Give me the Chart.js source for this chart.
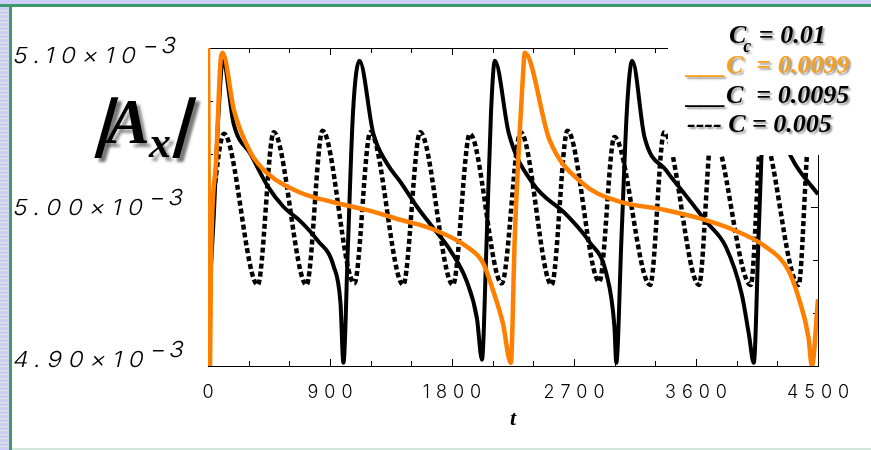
<!DOCTYPE html>
<html>
<head>
<meta charset="utf-8">
<script src="https://cdn.jsdelivr.net/npm/chart.js@4.4.1/dist/chart.umd.min.js"></script>
<style>
  html, body { margin: 0; padding: 0; background: #fff; }
  canvas { display: block; }
</style>
</head>
<body>
<canvas id="ampChart" width="871" height="450"></canvas>
<script>
// |A_x| vs t for three coupling values (amplitudes in units of 1e-3)

const xTickValues = [0, 900, 1800, 2700, 3600, 4500];
const yTickValues = [4.90, 5.00, 5.10];
const yTickLabels = ['4.90', '5.00', '5.10'];

// C = 0.0099
const orangeT = [0, 15, 22, 59, 95, 108, 191, 316, 441, 683, 926, 1176, 1418, 1660, 1910, 2028, 2101, 2175, 2234, 2263, 2300, 2325, 2336, 2520, 2762, 3012, 3380, 3622, 3865, 4114, 4283, 4357, 4430, 4455, 4500];
const orangeV = [5.100, 4.900, 4.965, 5.028, 5.094, 5.097, 5.061, 5.034, 5.021, 5.009, 5.003, 4.998, 4.992, 4.986, 4.975, 4.965, 4.948, 4.927, 4.902, 4.981, 5.048, 5.085, 5.097, 5.042, 5.015, 5.004, 4.998, 4.993, 4.986, 4.975, 4.960, 4.943, 4.918, 4.900, 4.942];

// C = 0.0095
const blackT = [0, 40, 75, 110, 190, 316, 441, 558, 683, 808, 926, 977, 999, 1032, 1070, 1117, 1220, 1323, 1418, 1543, 1660, 1785, 1910, 1984, 2021, 2054, 2088, 2116, 2220, 2395, 2645, 2814, 2939, 2998, 3012, 3050, 3093, 3130, 3220, 3380, 3527, 3673, 3820, 3938, 3990, 4026, 4063, 4100, 4137, 4230, 4305, 4500];
const blackV = [4.930, 4.990, 5.055, 5.092, 5.052, 5.033, 5.013, 5.000, 4.991, 4.979, 4.963, 4.940, 4.902, 4.975, 5.060, 5.092, 5.046, 5.027, 5.016, 5.000, 4.987, 4.973, 4.953, 4.930, 4.904, 4.975, 5.060, 5.092, 5.046, 5.015, 4.995, 4.978, 4.958, 4.925, 4.902, 4.980, 5.065, 5.092, 5.044, 5.023, 5.007, 4.991, 4.975, 4.945, 4.920, 4.902, 4.985, 5.065, 5.092, 5.048, 5.031, 5.008];

// C = 0.005
const dashT = [0, 118, 367, 485, 727, 845, 1080, 1198, 1440, 1565, 1807, 1932, 2167, 2307, 2535, 2652, 2887, 2998, 3262, 3365, 3622, 3718, 4004, 4085, 4357, 4438, 4500];
const dashV = [4.975, 5.046, 4.951, 5.047, 4.951, 5.048, 4.952, 5.047, 4.951, 5.047, 4.951, 5.046, 4.952, 5.047, 4.951, 5.048, 4.953, 5.044, 4.951, 5.047, 4.951, 5.047, 4.951, 5.047, 4.951, 5.047, 5.035];

const toPoints = (ts, vs) => ts.map((t, i) => ({ x: t, y: vs[i] }));

const serif = '"Liberation Serif", "Times New Roman", serif';
const thin = 'Inter, "DejaVu Sans", sans-serif';

// slanted text, used for the |..| bars of the axis title
const slanted = (ctx, text, x, y) => {
  ctx.save();
  ctx.translate(x, y);
  ctx.transform(1, 0, -0.28, 1, 0, 0);
  ctx.fillText(text, 0, 0);
  ctx.strokeText(text, 0, 0);
  ctx.restore();
};

const frame = {
  id: 'frame',
  beforeDraw(chart) {
    const { ctx, width, height } = chart;
    ctx.save();
    ctx.fillStyle = '#fff';
    ctx.fillRect(0, 0, width, height);
    // striped slide edge
    ctx.fillStyle = '#cdcdfa';
    ctx.fillRect(0, 0, width, 4);
    ctx.fillRect(0, 0, 9, height);
    ctx.fillStyle = '#d4f0c6';
    for (let y = 6; y < height; y += 4) ctx.fillRect(0, y, 9, 1);
    ctx.fillStyle = '#3d9b6b';
    ctx.fillRect(0, 4, width, 3);
    ctx.fillRect(9, 4, 3, height);
    ctx.fillStyle = '#d3e6de';
    ctx.fillRect(12, height - 2, width, 2);
    ctx.restore();
  },
  beforeDatasetsDraw(chart) {
    const { ctx, chartArea: a, scales: { x, y } } = chart;
    ctx.save();
    ctx.strokeStyle = '#000';
    ctx.lineWidth = 1;
    ctx.strokeRect(a.left + 0.5, a.top + 0.5, a.right - a.left, a.bottom - a.top);
    ctx.beginPath();
    // ticks on x, pointing inward
    for (let t = 0; t <= 4500; t += 300) {
      const px = Math.round(x.getPixelForValue(t)) + 0.5;
      const len = xTickValues.includes(t) ? 7 : 5;
      ctx.moveTo(px, a.bottom); ctx.lineTo(px, a.bottom - len);
      ctx.moveTo(px, a.top); ctx.lineTo(px, a.top + len);
    }
    // ticks on y
    for (let k = 0; k <= 6; k++) {
      const v = 4.90 + k * 0.2 / 6;
      const py = Math.round(y.getPixelForValue(v)) + 0.5;
      const len = k % 3 === 0 ? 7 : 5;
      ctx.moveTo(a.left, py); ctx.lineTo(a.left + len, py);
      ctx.moveTo(a.right, py); ctx.lineTo(a.right - len, py);
    }
    ctx.stroke();
    ctx.restore();
  },
  afterDraw(chart) {
    const { ctx, chartArea: a, scales: { x, y } } = chart;
    ctx.save();

    // tick labels
    ctx.fillStyle = '#000';
    ctx.letterSpacing = '6px';
    ctx.font = '300 18px ' + thin;
    ctx.textAlign = 'center';
    ctx.textBaseline = 'alphabetic';
    xTickValues.forEach(t => {
      ctx.fillText(String(t), x.getPixelForValue(t) + 3, 398);
    });

    ctx.textAlign = 'left';
    ctx.font = '300 22px ' + thin;
    yTickValues.forEach((v, i) => {
      const py = Math.min(Math.max(y.getPixelForValue(v), a.top + 7), a.bottom - 7);
      const main = yTickLabels[i] + '×10';
      ctx.save();
      ctx.translate(12, py + 8);
      ctx.transform(1.1, 0, -0.22, 1, 0, 0);
      ctx.fillText(main, 0, 0);
      const w = ctx.measureText(main).width;
      ctx.letterSpacing = '3px';
      ctx.fillText('−3', w - 2, -10);
      ctx.letterSpacing = '6px';
      ctx.restore();
    });
    ctx.letterSpacing = '0px';

    // x title
    ctx.font = 'italic bold 22px ' + serif;
    ctx.textAlign = 'center';
    ctx.fillText('t', (a.left + a.right) / 2, 425);

    // y title with drop shadow
    ctx.textAlign = 'left';
    ctx.shadowColor = 'rgba(0,0,0,0.45)';
    ctx.shadowOffsetX = 4;
    ctx.shadowOffsetY = 4;
    ctx.shadowBlur = 3;
    ctx.fillStyle = '#000';
    ctx.strokeStyle = '#000';
    ctx.lineWidth = 2.5;
    ctx.font = 'bold 64px ' + serif;
    slanted(ctx, '|', 95, 143);
    ctx.font = 'italic bold 64px ' + serif;
    ctx.fillText('A', 107, 143);
    ctx.font = 'italic bold 44px ' + serif;
    ctx.fillText('x', 149, 157);
    ctx.font = 'bold 64px ' + serif;
    slanted(ctx, '|', 173, 143);

    // legend panel
    ctx.shadowColor = 'transparent';
    ctx.fillStyle = '#fff';
    ctx.fillRect(668, 7, chart.width - 668, 148);

    ctx.shadowColor = 'rgba(0,0,0,0.4)';
    ctx.shadowOffsetX = 2;
    ctx.shadowOffsetY = 2;
    ctx.shadowBlur = 2;
    const big = 'italic bold 26px ' + serif;
    ctx.font = big;
    ctx.fillStyle = '#000';
    ctx.fillText('C', 729, 43);
    let lx = 729 + ctx.measureText('C').width;
    ctx.font = 'italic bold 18px ' + serif;
    ctx.fillText('c', lx - 3, 52);
    lx += ctx.measureText('c').width - 2;
    ctx.font = big;
    ctx.fillText(' = 0.01', lx, 43);

    ctx.fillStyle = '#f6a01e';
    ctx.fillText('___C  = 0.0099', 687, 73);
    ctx.fillStyle = '#000';
    ctx.fillText('___C  = 0.0095', 687, 103);
    ctx.fillText('---- C = 0.005', 687, 132);

    ctx.restore();
  }
};

new Chart(document.getElementById('ampChart'), {
  type: 'line',
  data: {
    datasets: [
      {
        label: 'C = 0.0099',
        data: toPoints(orangeT, orangeV),
        borderColor: '#ff8000',
        borderWidth: 4.5,
        cubicInterpolationMode: 'monotone',
        order: 0
      },
      {
        label: 'C = 0.0095',
        data: toPoints(blackT, blackV),
        borderColor: '#000',
        borderWidth: 4,
        cubicInterpolationMode: 'monotone',
        order: 1
      },
      {
        label: 'C = 0.005',
        data: toPoints(dashT, dashV),
        borderColor: '#000',
        borderWidth: 4.5,
        borderDash: [5, 3],
        cubicInterpolationMode: 'monotone',
        order: 2
      }
    ]
  },
  options: {
    responsive: false,
    animation: false,
    layout: { padding: { top: 48, right: 53, left: 0, bottom: 0 } },
    elements: { point: { radius: 0 } },
    plugins: {
      legend: { display: false },
      tooltip: { enabled: false }
    },
    scales: {
      x: {
        type: 'linear',
        min: 0,
        max: 4500,
        ticks: { display: false, stepSize: 900 },
        grid: { display: false },
        border: { display: false },
        afterFit: (scale) => { scale.height = 84; }
      },
      y: {
        min: 4.90,
        max: 5.10,
        ticks: { display: false, stepSize: 0.1 },
        grid: { display: false },
        border: { display: false },
        afterFit: (scale) => { scale.width = 208; }
      }
    }
  },
  plugins: [frame]
});
</script>
</body>
</html>
